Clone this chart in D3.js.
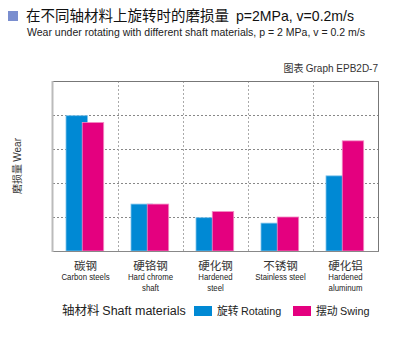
<!DOCTYPE html>
<html><head><meta charset="utf-8">
<script src="https://cdn.jsdelivr.net/npm/d3@7"></script>
<style>body{margin:0;background:#fff}svg{display:block}</style>
</head><body><svg id="c" width="400" height="360"></svg>
<script>
const categoriesCN = ["碳钢","硬铬钢","硬化钢","不锈钢","硬化铝"];
const categoriesEN = [["Carbon steels"],["Hard chrome","shaft"],["Hardened","steel"],["Stainless steel"],["Hardened","aluminum"]];
const rotating = [3.98, 1.38, 0.98, 0.82, 2.21];
const swing = [3.78, 1.38, 1.16, 1.0, 3.24];
const yTicks = [0,1,2,3,4,5];
const seriesNames = ["旋转 Rotating","摆动 Swing"];

const svg = d3.select("#c");
const cjk = "'Noto Sans CJK SC', 'Liberation Sans', sans-serif";
const lat = "'Liberation Sans', Arial, sans-serif";
const L=53, R=378, T=81, B=251;
const x = d3.scaleBand().domain(d3.range(categoriesCN.length)).range([L,R]);
const y = d3.scaleLinear().domain([0,5]).range([B,T]);
const bw = x.bandwidth();

// title
svg.append("rect").attr("x",8).attr("y",11).attr("width",10).attr("height",10).attr("fill","#7a8ecf");
const t = svg.append("text").attr("x",26).attr("y",21).attr("font-size",14.5).attr("fill","#111").attr("font-family",cjk);
t.append("tspan").text("在不同轴材料上旋转时的磨损量");
t.append("tspan").attr("font-family",lat).attr("dx",7).attr("textLength",118).attr("lengthAdjust","spacingAndGlyphs").text("p=2MPa, v=0.2m/s");
svg.append("text").attr("x",27).attr("y",36).attr("font-size",10.5).attr("font-family",lat).attr("fill","#222")
  .attr("textLength",338).attr("lengthAdjust","spacingAndGlyphs")
  .text("Wear under rotating with different shaft materials, p = 2 MPa, v = 0.2 m/s");
const g2 = svg.append("text").attr("x",378).attr("y",72).attr("text-anchor","end").attr("font-size",10).attr("fill","#333");
g2.append("tspan").attr("font-family",cjk).text("图表 ");
g2.append("tspan").attr("font-family",lat).text("Graph EPB2D-7");

// grid
svg.append("g").selectAll("line").data(yTicks.slice(1,5)).join("line")
  .attr("x1",L).attr("x2",R).attr("y1",d=>y(d)+0.5).attr("y2",d=>y(d)+0.5)
  .attr("stroke","#888").attr("stroke-dasharray","2,2");
svg.append("g").selectAll("line").data(d3.range(1,categoriesCN.length)).join("line")
  .attr("x1",d=>x(d)+0.5).attr("x2",d=>x(d)+0.5).attr("y1",T).attr("y2",B)
  .attr("stroke","#aaa").attr("stroke-dasharray","2,2");

// frame
svg.append("line").attr("x1",L).attr("x2",R+0.5).attr("y1",T+0.5).attr("y2",T+0.5).attr("stroke","#777");
svg.append("line").attr("x1",R+0.5).attr("x2",R+0.5).attr("y1",T).attr("y2",B).attr("stroke","#777");

// bars
const gb = svg.append("g");
gb.selectAll("rect.r").data(rotating).join("rect").attr("class","r")
  .attr("x",(d,i)=>x(i)+bw*0.2).attr("width",bw*0.33)
  .attr("y",d=>y(d)).attr("height",d=>B-y(d))
  .attr("fill","#0089d4").attr("stroke","#7fc4ec").attr("stroke-width",0.8);
gb.selectAll("rect.s").data(swing).join("rect").attr("class","s")
  .attr("x",(d,i)=>x(i)+bw*0.45).attr("width",bw*0.33)
  .attr("y",d=>y(d)).attr("height",d=>B-y(d))
  .attr("fill","#e4007f").attr("stroke","#f28cc3").attr("stroke-width",0.8);

// axes
svg.append("line").attr("x1",L).attr("x2",R+1).attr("y1",B+0.5).attr("y2",B+0.5).attr("stroke","#888");
svg.append("line").attr("x1",L-0.5).attr("x2",L-0.5).attr("y1",T).attr("y2",B+1).attr("stroke","#bbb").attr("stroke-width",2);

// category labels
const cl = svg.append("g");
categoriesCN.forEach((c,i)=>{
  const cx = x(i)+bw/2;
  cl.append("text").attr("x",cx).attr("y",270).attr("text-anchor","middle").attr("font-size",11.5).attr("font-family",cjk).attr("fill","#333").text(c);
  categoriesEN[i].forEach((e,j)=>{
    cl.append("text").attr("x",cx).attr("y",280.5+j*11).attr("text-anchor","middle").attr("font-size",8.5).attr("font-family",lat).attr("fill","#222")
      .attr("transform",`translate(${cx},0) scale(0.92,1) translate(${-cx},0)`).text(e);
  });
});

// y label
const yl = svg.append("text").attr("transform","translate(21,166) rotate(-90)").attr("text-anchor","middle").attr("font-size",10).attr("fill","#333");
yl.append("tspan").attr("font-family",cjk).text("磨损量 ");
yl.append("tspan").attr("font-family",lat).text("Wear");

// legend
const lx = svg.append("text").attr("x",62).attr("y",315).attr("font-size",12.5).attr("fill","#222");
lx.append("tspan").attr("font-family",cjk).text("轴材料 ");
lx.append("tspan").attr("font-family",lat).text("Shaft materials");
const legX = [194, 293];
const legC = ["#0089d4","#e4007f"];
seriesNames.forEach((n,i)=>{
  svg.append("rect").attr("x",legX[i]).attr("y",306).attr("width",18).attr("height",10).attr("fill",legC[i]);
  const parts = n.split(" ");
  const tt = svg.append("text").attr("x",legX[i]+23).attr("y",315).attr("font-size",10.8).attr("fill","#222");
  tt.append("tspan").attr("font-family",cjk).text(parts[0]+" ");
  tt.append("tspan").attr("font-family",lat).text(parts[1]);
});
</script></body></html>
